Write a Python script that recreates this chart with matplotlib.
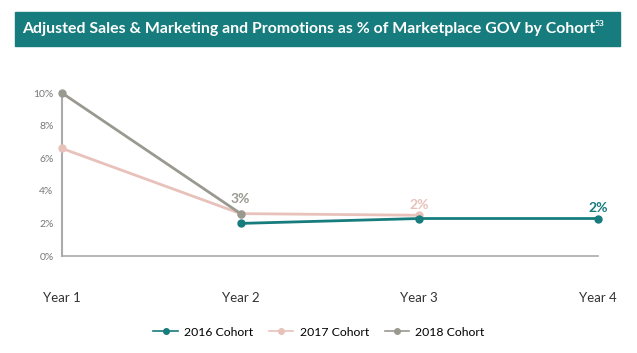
import matplotlib.pyplot as plt
from matplotlib.patches import Rectangle
from matplotlib.lines import Line2D

plt.rcParams['font.family'] = ['Lato', 'DejaVu Sans']

years = ["Year 1", "Year 2", "Year 3", "Year 4"]
cohort_2016 = [None, 2.0, 2.3, 2.3]
cohort_2017 = [6.6, 2.6, 2.5, None]
cohort_2018 = [10.0, 2.6, None, None]
yticks = [0, 2, 4, 6, 8, 10]

teal = "#177c7d"
pink = "#e8c1ba"
grey = "#9a9990"

fig = plt.figure(figsize=(6.37, 3.53), dpi=100)

# title banner
fig.patches.append(Rectangle((15 / 637, 1 - 46 / 353), 605 / 637, 34 / 353,
                             transform=fig.transFigure, color=teal, zorder=0))
title = fig.text(22 / 637, 1 - 29 / 353,
                 "Adjusted Sales & Marketing and Promotions as % of Marketplace GOV by Cohort",
                 color="white", fontsize=11.4, fontweight="bold", ha="left", va="center")
fig.canvas.draw()
bb = title.get_window_extent()
fig.text((bb.x1 - 1) / 637, 1 - 23 / 353, "53", color="white", fontsize=6,
         fontweight="bold", ha="left", va="center")

ax = fig.add_axes([62 / 637, 1 - 256 / 353, 536 / 637, 163 / 353])


def pts(vals):
    xs = [i for i, v in enumerate(vals) if v is not None]
    return xs, [vals[i] for i in xs]


for vals, col in [(cohort_2017, pink), (cohort_2018, grey), (cohort_2016, teal)]:
    xs, ys = pts(vals)
    ax.plot(xs, ys, "-o", color=col, lw=2, ms=5, clip_on=False, zorder=3)

ax.text(1, 2.6 + 0.55, "3%", color=grey, fontsize=10, fontweight="bold", ha="center", va="bottom")
ax.text(2, 2.5 + 0.25, "2%", color=pink, fontsize=10, fontweight="bold", ha="center", va="bottom")
ax.text(3, 2.3 + 0.25, "2%", color=teal, fontsize=10, fontweight="bold", ha="center", va="bottom")

ax.set_xlim(0, 3)
ax.set_ylim(0, 10)
ax.set_xticks(range(len(years)))
ax.set_xticklabels(years, fontsize=9.5, color="#333333")
ax.set_yticks(yticks)
ax.set_yticklabels([f"{v}%" for v in yticks], fontsize=7.5, color="#777777")
ax.tick_params(axis="x", length=0, pad=26)
ax.tick_params(axis="y", length=0, pad=6)
for s in ["top", "right"]:
    ax.spines[s].set_visible(False)
ax.spines["left"].set_color("#aaaaaa")
ax.spines["bottom"].set_color("#aaaaaa")
ax.spines["left"].set_linewidth(1.5)
ax.spines["bottom"].set_linewidth(1.2)

handles = [Line2D([], [], color=c, marker="o", ms=4, lw=1.2) for c in (teal, pink, grey)]
fig.legend(handles, ["2016 Cohort", "2017 Cohort", "2018 Cohort"], loc="center",
           bbox_to_anchor=(319 / 637, 1 - 332 / 353), ncol=3, frameon=False,
           fontsize=8.8, handlelength=2.0, columnspacing=1.3, handletextpad=0.5)

fig.savefig("out.png", dpi=100)
